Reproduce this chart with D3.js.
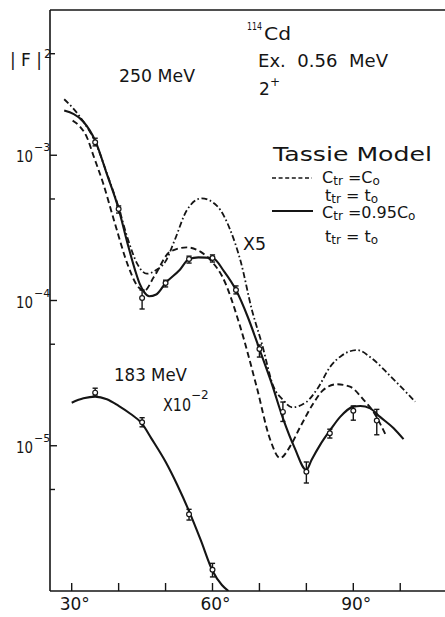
<!DOCTYPE html>
<html><head><meta charset="utf-8">
<script src="https://cdn.jsdelivr.net/npm/d3@7"></script>
<style>html,body{margin:0;padding:0;background:#fff}</style>
</head><body><div id="chart"></div>
<script>
// ---------- data ----------
const xTicks = [30, 40, 50, 60, 70, 80, 90, 100];
const xTickLabels = [30, 60, 90];
const yMajorTicks = [1e-3, 1e-4, 1e-5];
const yMajorExp = ["\u22123", "\u22124", "\u22125"];
const yMinorTicks = [5e-3, 5e-4, 5e-5, 5e-6];

// 250 MeV data
const ang250 = [35, 40, 45, 50, 55, 60, 65, 70, 75, 80, 85, 90, 95];
const val250 = [1.23e-3, 4.27e-4, 1.04e-4, 1.32e-4, 1.93e-4, 1.96e-4, 1.18e-4, 4.63e-5, 1.71e-5, 6.62e-6, 1.22e-5, 1.74e-5, 1.49e-5];
const lo250  = [1.16e-3, 4.00e-4, 8.74e-5, 1.24e-4, 1.81e-4, 1.84e-4, 1.11e-4, 4.08e-5, 1.47e-5, 5.54e-6, 1.13e-5, 1.50e-5, 1.19e-5];
const hi250  = [1.31e-3, 4.48e-4, 1.18e-4, 1.38e-4, 2.02e-4, 2.06e-4, 1.26e-4, 4.94e-5, 2.00e-5, 7.73e-6, 1.30e-5, 1.88e-5, 1.78e-5];

// 183 MeV data (x10^-2)
const ang183 = [35, 45, 55, 60];
const val183 = [2.32e-5, 1.45e-5, 3.37e-6, 1.40e-6];
const lo183  = [2.20e-5, 1.35e-5, 3.08e-6, 1.25e-6];
const hi183  = [2.49e-5, 1.56e-5, 3.65e-6, 1.55e-6];

// Tassie model, C_tr = 0.95 C_o (solid)
const solidAng = [28.4, 32.5, 35, 37.5, 40, 42, 43.5, 44.5, 45.5, 46.5, 48, 50, 53, 55, 57, 60, 62.5, 65, 67.5, 70, 72.5, 75, 77.5, 80, 81.1, 82.9, 85.07, 87.2, 90, 91.5, 93.6, 95.7, 98.6, 100.7];
const solidVal = [2.03e-3, 1.70e-3, 1.26e-3, 7.41e-4, 4.27e-4, 2.40e-4, 1.62e-4, 1.30e-4, 1.135e-4, 1.07e-4, 1.10e-4, 1.32e-4, 1.62e-4, 1.93e-4, 1.98e-4, 1.96e-4, 1.58e-4, 1.18e-4, 7.73e-5, 4.63e-5, 2.75e-5, 1.55e-5, 9.66e-6, 6.81e-6, 7.98e-6, 1.01e-5, 1.28e-5, 1.58e-5, 1.86e-5, 1.88e-5, 1.81e-5, 1.58e-5, 1.32e-5, 1.11e-5];

// Tassie model, C_tr = C_o (dashed)
const dashAng = [30.2, 31.8, 33.2, 34.6, 36.7, 39.2, 42, 44, 45.5, 47.5, 51, 54.5, 57.5, 60.2, 62, 65.9, 69.4, 72.3, 74.4, 76.5, 78.7, 81.5, 83.6, 86.5, 89.3, 92.2, 94.3, 97];
const dashVal = [1.73e-3, 1.57e-3, 1.34e-3, 1.00e-3, 6.41e-4, 3.40e-4, 1.74e-4, 1.26e-4, 1.17e-4, 1.45e-4, 2.17e-4, 2.32e-4, 2.16e-4, 1.80e-4, 1.48e-4, 6.61e-5, 2.55e-5, 1.10e-5, 8.22e-6, 9.86e-6, 1.35e-5, 1.96e-5, 2.42e-5, 2.65e-5, 2.55e-5, 2.07e-5, 1.71e-5, 1.17e-5];

// X5 curve (dash-dot)
const ddAng = [28.4, 30.5, 32.5, 35, 37.5, 40, 42, 44, 46, 48, 50, 52, 54.5, 57.7, 61, 63.8, 66, 68.4, 70.5, 73, 75, 77, 80, 82.5, 85, 87.5, 90.8, 94, 98, 103.2];
const ddVal = [2.43e-3, 2.07e-3, 1.70e-3, 1.24e-3, 7.50e-4, 4.37e-4, 2.63e-4, 1.78e-4, 1.53e-4, 1.62e-4, 1.86e-4, 2.63e-4, 4.17e-4, 5.05e-4, 4.47e-4, 3.05e-4, 1.86e-4, 8.61e-5, 5.07e-5, 2.55e-5, 2.07e-5, 1.84e-5, 2.00e-5, 2.51e-5, 3.47e-5, 4.17e-5, 4.56e-5, 3.98e-5, 2.99e-5, 2.01e-5];

// 183 MeV fit (solid)
const c183Ang = [30, 32.5, 35, 37.5, 40, 42.5, 44.9, 47, 50, 52.5, 55, 57.5, 60, 62, 63.4];
const c183Val = [1.98e-5, 2.12e-5, 2.18e-5, 2.09e-5, 1.88e-5, 1.66e-5, 1.43e-5, 1.12e-5, 7.76e-6, 5.37e-6, 3.55e-6, 2.24e-6, 1.38e-6, 1.10e-6, 1.00e-6];

// ---------- drawing ----------
(function () {
const W = 445, H = 617;
const INK = "#151515";
const FONT = "DejaVu Sans, Liberation Sans, sans-serif";
const pL = 50, pT = 10, pR = 445, pB = 591;

const x = d3.scaleLinear().domain([30, 90]).range([71.7, 353.3]);
const y = d3.scaleLog().domain([1e-6, 1e-2]).range([pB, pT]);

const svg = d3.select("#chart").append("svg")
  .attr("width", W).attr("height", H)
  .style("background", "#fff")
  .attr("font-family", FONT);

svg.append("defs").append("clipPath").attr("id", "plot")
  .append("rect").attr("x", pL).attr("y", pT)
  .attr("width", pR - pL).attr("height", pB - pT);

// frame
const frame = svg.append("g").attr("stroke", INK).attr("stroke-width", 1.6).attr("fill", "none");
frame.append("line").attr("x1", pL).attr("x2", pR).attr("y1", pT).attr("y2", pT);
frame.append("line").attr("x1", pL).attr("x2", pR).attr("y1", pB).attr("y2", pB);
frame.append("line").attr("x1", pL).attr("x2", pL).attr("y1", pT).attr("y2", pB);

// x ticks (inward)
frame.selectAll(".xt").data(xTicks).join("line")
  .attr("x1", d => x(d)).attr("x2", d => x(d))
  .attr("y1", pB).attr("y2", pB - 8).attr("stroke-width", 1.4);
svg.selectAll(".xl").data(xTickLabels).join("text")
  .attr("x", d => x(d) + 3).attr("y", 610)
  .attr("text-anchor", "middle").attr("font-size", 17).attr("fill", INK)
  .text(d => d + "\u00b0");

// y ticks
frame.selectAll(".ymaj").data(yMajorTicks).join("line")
  .attr("x1", pL).attr("x2", pL + 7)
  .attr("y1", d => y(d)).attr("y2", d => y(d)).attr("stroke-width", 1.4);
frame.selectAll(".ymin").data(yMinorTicks).join("line")
  .attr("x1", pL).attr("x2", pL + 5)
  .attr("y1", d => y(d)).attr("y2", d => y(d)).attr("stroke-width", 1.4);
yMajorTicks.forEach((d, i) => {
  svg.append("text").attr("x", 33).attr("y", y(d) + 7)
    .attr("text-anchor", "end").attr("font-size", 16).attr("fill", INK)
    .attr("textLength", 17).attr("lengthAdjust", "spacingAndGlyphs")
    .text("10");
  svg.append("text").attr("x", 34).attr("y", y(d) - 4)
    .attr("font-size", 11).attr("fill", INK)
    .text(yMajorExp[i]);
});

// curves
const line = d3.line().x(d => x(d[0])).y(d => y(d[1])).curve(d3.curveMonotoneX);
const zip = (a, b) => a.map((v, i) => [v, b[i]]);
const curves = svg.append("g").attr("clip-path", "url(#plot)").attr("fill", "none").attr("stroke", INK);
curves.append("path").attr("d", line(zip(ddAng, ddVal)))
  .attr("stroke-width", 1.8).attr("stroke-dasharray", "6,2.6,1.6,2.6");
curves.append("path").attr("d", line(zip(dashAng, dashVal)))
  .attr("stroke-width", 1.9).attr("stroke-dasharray", "6,3.5");
curves.append("path").attr("d", line(zip(solidAng, solidVal)))
  .attr("stroke-width", 2.1);
curves.append("path").attr("d", line(zip(c183Ang, c183Val)))
  .attr("stroke-width", 2.1);

// data points with error bars
function drawPoints(ang, val, lo, hi) {
  const g = svg.append("g");
  ang.forEach((a, i) => {
    const px = x(a);
    g.append("line").attr("x1", px).attr("x2", px).attr("y1", y(lo[i])).attr("y2", y(hi[i]))
      .attr("stroke", INK).attr("stroke-width", 1.4);
    [lo[i], hi[i]].forEach(v => g.append("line").attr("x1", px - 2.6).attr("x2", px + 2.6)
      .attr("y1", y(v)).attr("y2", y(v)).attr("stroke", INK).attr("stroke-width", 1.4));
    g.append("circle").attr("cx", px).attr("cy", y(val[i])).attr("r", 2.4)
      .attr("fill", "#fff").attr("stroke", INK).attr("stroke-width", 1.2);
  });
}
drawPoints(ang250, val250, lo250, hi250);
drawPoints(ang183, val183, lo183, hi183);

// text annotations
const T = (xx, yy, size, str, len, mode) => {
  const t = svg.append("text").attr("x", xx).attr("y", yy).attr("font-size", size)
    .attr("fill", INK).style("white-space", "pre").text(str);
  if (len) t.attr("textLength", len).attr("lengthAdjust", mode || "spacingAndGlyphs");
  return t;
};
T(10, 66, 17, "|F|", 32, "spacing");
T(44, 58, 12, "2");
T(119, 82, 17, "250 MeV", 76);
T(247, 30, 11, "114", 15);
T(264, 40, 18, "Cd", 27);
T(258, 67, 17, "Ex.  0.56  MeV", 130);
T(259, 95, 17, "2");
T(270, 86, 12, "+");
T(273, 161, 20, "Tassie Model", 159);
T(243, 250, 17, "X5", 23);
T(114, 381, 17, "183 MeV", 73);
T(163, 411, 17, "X10", 28);
T(191, 399, 12, "\u22122");

// legend
svg.append("line").attr("x1", 272).attr("x2", 312).attr("y1", 178).attr("y2", 178)
  .attr("stroke", INK).attr("stroke-width", 1.6).attr("stroke-dasharray", "4,2.6");
svg.append("line").attr("x1", 272).attr("x2", 313).attr("y1", 211).attr("y2", 211)
  .attr("stroke", INK).attr("stroke-width", 2);

function subText(xx, yy, parts) {
  const t = svg.append("text").attr("x", xx).attr("y", yy).attr("fill", INK).style("white-space", "pre");
  parts.forEach(p => {
    t.append("tspan").attr("font-size", p[1] ? 12 : 16)
      .attr("dy", p[2] || 0).text(p[0]);
  });
}
subText(322, 183, [["C"], ["tr", 1, 2], [" =", 0, -2], ["C"], ["o", 1, 2]]);
subText(325, 201, [["t"], ["tr", 1, 2], [" = ", 0, -2], ["t"], ["o", 1, 2]]);
subText(322, 218, [["C"], ["tr", 1, 2], [" =0.95", 0, -2], ["C"], ["o", 1, 2]]);
subText(325, 242, [["t"], ["tr", 1, 2], [" = ", 0, -2], ["t"], ["o", 1, 2]]);
})();
</script>
</body></html>
